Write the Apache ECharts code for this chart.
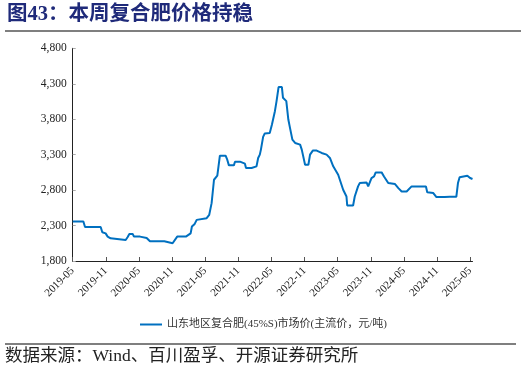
<!DOCTYPE html>
<html>
<head>
<meta charset="utf-8">
<script src="https://cdn.jsdelivr.net/npm/echarts@6/dist/echarts.min.js"></script>
<style>
html,body{margin:0;padding:0;background:#fff;}
#chart{width:521px;height:373px;}
</style>
</head>
<body>
<div id="chart"></div>
<script>
const dates = [
 '2019-05-01','2019-06-29','2019-07-08','2019-10-03','2019-10-12','2019-10-30','2019-11-11','2019-11-27','2019-12-06',
 '2020-02-19','2020-02-29','2020-03-09','2020-03-27','2020-04-04','2020-05-07','2020-05-10','2020-06-13','2020-06-22',
 '2020-07-01','2020-09-19','2020-09-24','2020-11-04','2020-11-13','2020-11-29','2021-01-16','2021-01-24','2021-02-12',
 '2021-02-19','2021-03-04','2021-03-15','2021-03-24','2021-05-09','2021-05-23','2021-06-06','2021-06-19','2021-07-07',
 '2021-07-21','2021-08-22','2021-09-01','2021-09-10','2021-10-07','2021-10-13','2021-11-10','2021-11-13','2021-12-07',
 '2021-12-13','2022-01-13','2022-01-19','2022-02-10','2022-02-19','2022-02-28','2022-03-04','2022-03-16','2022-03-25',
 '2022-04-22','2022-05-04','2022-05-20','2022-05-29','2022-06-10','2022-06-28','2022-07-04','2022-07-22','2022-08-03',
 '2022-08-12','2022-08-25','2022-09-10','2022-10-07','2022-10-16','2022-11-04','2022-11-22','2022-12-01','2022-12-16',
 '2023-01-07','2023-02-04','2023-03-01','2023-03-19','2023-04-07','2023-04-16','2023-05-04','2023-05-13','2023-06-01',
 '2023-06-10','2023-06-19','2023-06-23','2023-07-25','2023-08-04','2023-08-22','2023-09-01','2023-09-10','2023-10-08',
 '2023-10-17','2023-11-05','2023-11-19','2023-11-28','2023-12-30','2024-01-13','2024-02-06','2024-03-13','2024-04-01',
 '2024-04-19','2024-05-16','2024-05-25','2024-06-13','2024-09-01','2024-09-08','2024-10-11','2024-10-28','2024-12-13',
 '2024-12-22','2025-01-10','2025-02-16','2025-02-25','2025-03-04','2025-03-10','2025-04-16','2025-05-01','2025-05-14'
];
const prices = [
 2357,2357,2280,2280,2205,2190,2144,2120,2097,
 2097,2135,2182,2182,2144,2144,2125,2125,2097,
 2078,2078,2050,2050,2074,2144,2144,2170,2190,
 2286,2323,2380,2404,2404,2451,2616,2946,3003,
 3286,3286,3229,3149,3149,3201,3201,3173,3173,
 3111,3111,3135,3135,3253,3300,3371,3550,3600,
 3607,3725,3913,4055,4253,4253,4102,4055,3795,
 3677,3512,3465,3441,3371,3158,3158,3300,3357,
 3357,3324,3300,3253,3135,3111,3017,2993,2805,
 2781,2710,2583,2583,2710,2852,2899,2908,2908,
 2852,2970,2993,3050,3050,2993,2899,2885,2828,
 2781,2781,2805,2852,2852,2770,2758,2701,2701,
 2725,2706,2706,2899,2980,3003,3003,2970,2956
];
const tickLabels = ['2019-05','2019-11','2020-05','2020-11','2021-05','2021-11','2022-05','2022-11','2023-05','2023-11','2024-05','2024-11','2025-05'];
const seriesName = '山东地区复合肥(45%S)市场价(主流价，元/吨)';
const titleText = '图43：本周复合肥价格持稳';
const sourceText = '数据来源：Wind、百川盈孚、开源证券研究所';

// months since 2019-05-01
function monthIndex(d) {
  const [y, m, day] = d.split('-').map(Number);
  return (y - 2019) * 12 + (m - 5) + (day - 1) / 30;
}
const points = dates.map((d, i) => [monthIndex(d), prices[i]]);
const lastX = monthIndex(dates[dates.length - 1]);

const serif = '"Liberation Serif","Times New Roman","Noto Sans CJK SC",serif';

const chart = echarts.init(document.getElementById('chart'), null, {renderer: 'canvas'});
chart.setOption({
  animation: false,
  backgroundColor: '#fff',
  grid: {left: 72.7, right: 48.5, top: 48.3, bottom: 112},
  legend: {
    left: 135, top: 314,
    icon: 'rect', itemWidth: 22, itemHeight: 2, itemGap: 6,
    textStyle: {fontSize: 11, fontFamily: serif, color: '#333'},
    data: [seriesName]
  },
  xAxis: {
    type: 'value', min: 0, max: lastX, interval: 6,
    axisLine: {lineStyle: {color: '#222', width: 1}},
    axisTick: {inside: true, length: 4, lineStyle: {color: '#555'}},
    splitLine: {show: false},
    axisLabel: {
      rotate: 45, margin: 8, fontSize: 11, fontFamily: serif, color: '#222',
      showMaxLabel: false,
      formatter: v => (Math.abs(v % 6) < 1e-6 ? tickLabels[Math.round(v / 6)] : '')
    }
  },
  yAxis: {
    type: 'value', min: 1800, max: 4800, interval: 500,
    axisLine: {show: true, lineStyle: {color: '#222', width: 1}},
    axisTick: {show: true, inside: true, length: 3, lineStyle: {color: '#aaa'}},
    splitLine: {show: false},
    axisLabel: {
      margin: 6, fontSize: 11.5, fontFamily: serif, color: '#222',
      formatter: v => v.toLocaleString('en-US')
    }
  },
  series: [{
    name: seriesName, type: 'line', data: points,
    showSymbol: false, symbol: 'none',
    lineStyle: {color: '#0070C0', width: 2},
    itemStyle: {color: '#0070C0'}
  }],
  graphic: [
    {type: 'text', left: 7, top: 4, style: {text: titleText, font: 'bold 20.5px ' + serif, fill: '#1F2A7A'}},
    {type: 'rect', shape: {x: 5, y: 30, width: 516, height: 2}, style: {fill: '#7f7f7f'}},
    {type: 'rect', shape: {x: 5, y: 343, width: 511, height: 2}, style: {fill: '#7f7f7f'}},
    {type: 'text', left: 5, top: 348, style: {text: sourceText, font: '17.5px ' + serif, fill: '#222'}}
  ]
});
</script>
</body>
</html>
